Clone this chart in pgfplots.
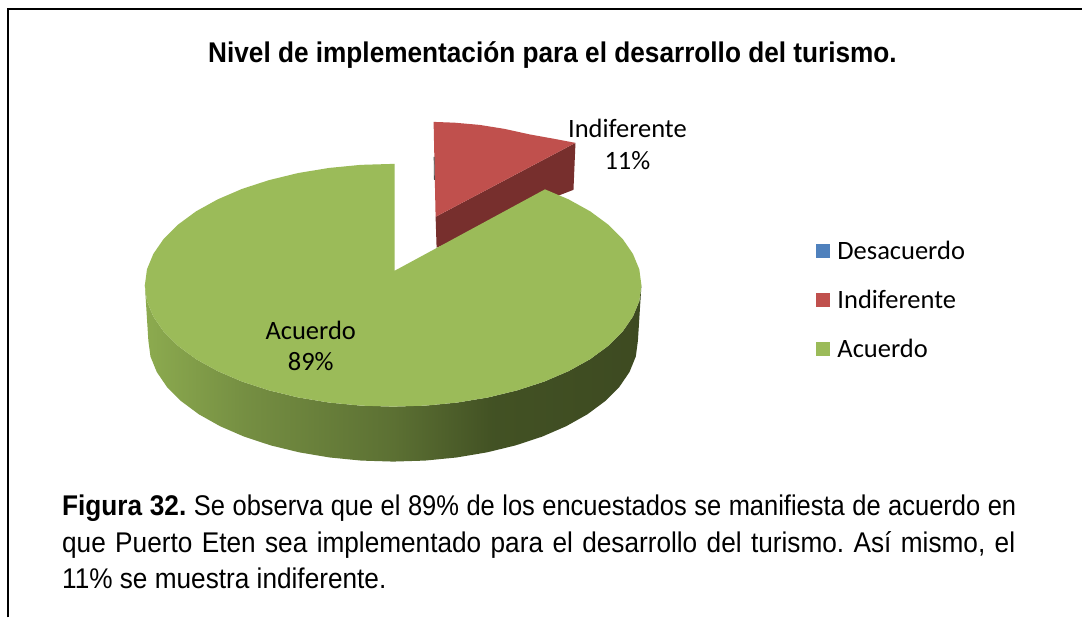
\documentclass[border=0pt]{standalone}
\usepackage{fontspec}
\setmainfont{Liberation Sans}
\newfontfamily\calf{Carlito}
\newfontfamily\nar[FakeStretch=0.92]{Liberation Sans}
\newfontfamily\narb[FakeStretch=0.895]{Liberation Sans}
\usepackage{pgfplots}
\pgfplotsset{compat=1.18}
\pgfdeclarehorizontalshading{sideg}{100bp}{
 rgb(0bp)=(0.55,0.67,0.31);
 rgb(25bp)=(0.55,0.67,0.31);
 rgb(35bp)=(0.46,0.56,0.26);
 rgb(50bp)=(0.36,0.44,0.20);
 rgb(60bp)=(0.26,0.32,0.14);
 rgb(75bp)=(0.24,0.29,0.13);
 rgb(100bp)=(0.24,0.29,0.13)}
\definecolor{gr}{HTML}{9BBB59}
\definecolor{rd}{HTML}{C0504D}
\definecolor{bl}{HTML}{4F81BD}
\definecolor{drd}{HTML}{772F2D}
\begin{document}
\frenchspacing
\begin{tikzpicture}
\begin{axis}[scale only axis,width=1083pt,height=618pt,xmin=0,xmax=1083,ymin=0,ymax=618,y dir=reverse,hide axis,clip=false]
\addplot[fill=white,draw=none] coordinates {(0,0)(1083,0)(1083,618)(0,618)} --cycle;
% frame
\addplot[black,line width=2pt] coordinates {(8,618)(8,9)(1083,9)};
% red slice
\addplot[fill=drd,draw=none] coordinates {(436,217)(576,143)(574,190)(548,200)(437,248)} --cycle;
\addplot[fill=rd,draw=none] coordinates {(434,122)(455,122.8)(480,125)(505,129)(530,134.5)(555,139)(576,143)(436,217)} --cycle;
\addplot[black!70,line width=0.8pt] coordinates {(434.5,157)(434.8,180)};
% green side
\addplot[shade,shading=sideg,draw=none] coordinates {
(145,285.5)(147.1,301.4)(153.5,316.9)(163.9,332)(178.3,346.25)(196.3,359.5)(217.8,371.4)(242.2,381.9)(269.25,390.7)(298.4,397.8)(329.2,402.9)(361.1,406)(393.5,407)(425.9,406)(457.8,402.9)(488.6,397.8)(517.75,390.7)(544.8,381.9)(569.2,371.4)(590.7,359.5)(608.7,346.25)(623.1,332)(633.5,316.9)(639.9,301.4)(642,285.5)
(638.5,341)(636.4,356.8)(630.1,372.3)(619.9,387.3)(605.7,401.5)(587.9,414.7)(566.7,426.6)(542.7,437)(516,445.8)(487.3,452.8)(456.9,457.9)(425.5,461)(393.5,462)(361.5,461)(330.1,457.9)(299.7,452.8)(271,445.8)(244.3,437)(220.3,426.6)(199.1,414.7)(181.3,401.5)(167.1,387.3)(156.9,372.3)(150.6,356.8)(148.5,341)} --cycle;
% green top
\addplot[fill=gr,draw=none] coordinates {
(395,271)(395,164)(361.1,165)(329.2,168.1)(298.4,173.2)(269.25,180.3)(242.2,189.1)(217.8,199.6)(196.3,211.5)(178.3,224.75)(163.9,239)(153.5,254.1)(147.1,269.6)(145,285.5)
(147.1,301.4)(153.5,316.9)(163.9,332)(178.3,346.25)(196.3,359.5)(217.8,371.4)(242.2,381.9)(269.25,390.7)(298.4,397.8)(329.2,402.9)(361.1,406)(393.5,407)(425.9,406)(457.8,402.9)(488.6,397.8)(517.75,390.7)(544.8,381.9)(569.2,371.4)(590.7,359.5)(608.7,346.25)(623.1,332)(633.5,316.9)(639.9,301.4)(642,285.5)
(639.9,269.6)(633.5,254.1)(623.1,239)(608.7,224.75)(590.7,211.5)(569.2,199.6)(545.5,189.5)} --cycle;
% legend swatches
\addplot[fill=bl,draw=none] coordinates {(817,244)(831,244)(831,258)(817,258)} --cycle;
\addplot[fill=rd,draw=none] coordinates {(817,293)(831,293)(831,307)(817,307)} --cycle;
\addplot[fill=gr,draw=none] coordinates {(817,342)(831,342)(831,356)(817,356)} --cycle;
% text
\node[anchor=base,inner sep=0] at (axis cs:553,63) {\fontsize{28.5}{30}\selectfont\nar\bfseries Nivel de implementación para el desarrollo del turismo.};
\node[anchor=base,inner sep=0] at (axis cs:628,138) {\fontsize{26.5}{30}\selectfont\calf Indiferente};
\node[anchor=base,inner sep=0] at (axis cs:628,170) {\fontsize{26.5}{30}\selectfont\calf 11\%};
\node[anchor=base,inner sep=0] at (axis cs:311,340) {\fontsize{26.5}{30}\selectfont\calf Acuerdo};
\node[anchor=base,inner sep=0] at (axis cs:311,371) {\fontsize{26.5}{30}\selectfont\calf 89\%};
\node[anchor=base west,inner sep=0] at (axis cs:838,260) {\fontsize{26.5}{30}\selectfont\calf Desacuerdo};
\node[anchor=base west,inner sep=0] at (axis cs:838,309) {\fontsize{26.5}{30}\selectfont\calf Indiferente};
\node[anchor=base west,inner sep=0] at (axis cs:838,358) {\fontsize{26.5}{30}\selectfont\calf Acuerdo};
\node[anchor=base west,inner sep=0] at (axis cs:62,516) {\hbox to 955pt{\fontsize{28.5}{30}\selectfont\nar\textbf{Figura 32.} \narb Se observa que el 89\% de los encuestados se manifiesta de acuerdo en}};
\node[anchor=base west,inner sep=0] at (axis cs:62,553) {\hbox to 954pt{\fontsize{28.5}{30}\selectfont\nar que Puerto Eten sea implementado para el desarrollo del turismo. Así mismo, el}};
\node[anchor=base west,inner sep=0] at (axis cs:62,589.5) {\fontsize{28.5}{30}\selectfont\nar 11\% se muestra indiferente.};
\end{axis}
\end{tikzpicture}
\end{document}
